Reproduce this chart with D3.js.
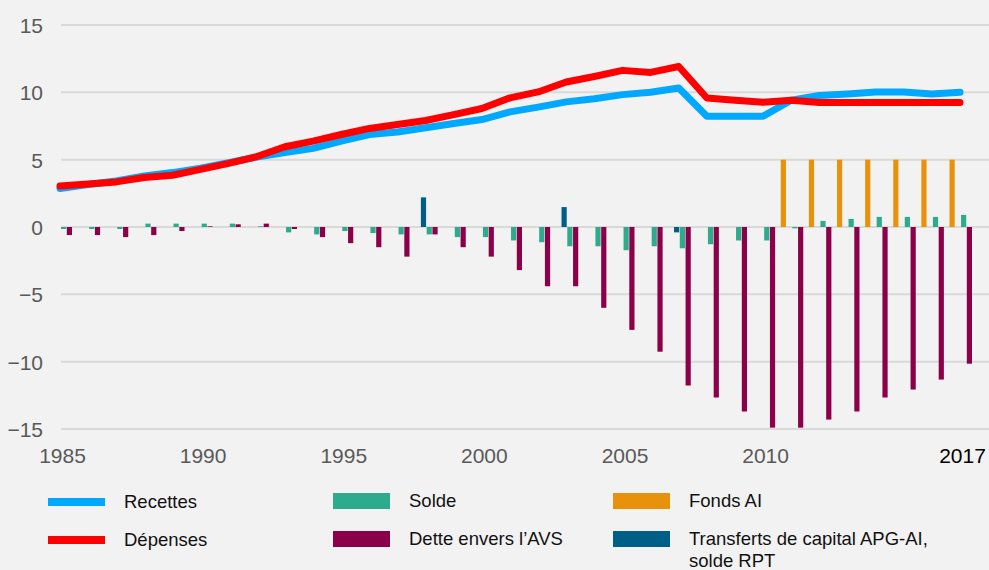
<!DOCTYPE html>
<html>
<head>
<meta charset="utf-8">
<script src="https://cdn.jsdelivr.net/npm/d3@7"></script>
<style>
  body { margin: 0; background: #f2f2f2; }
  svg { display: block; font-family: "Liberation Sans", Arial, sans-serif; }
</style>
</head>
<body>
<script>
// ************** Data (Mrd. CHF) ************************************
var years = d3.range(1985, 2018);

var recettes = [2.86, 3.15, 3.42, 3.79, 4.04, 4.36, 4.78, 5.2, 5.52, 5.84,
                6.38, 6.87, 7.05, 7.37, 7.69, 7.98, 8.55, 8.9, 9.29, 9.53,
                9.83, 10.0, 10.32, 8.23, 8.23, 8.23, 9.41, 9.76, 9.88, 10.03,
                10.03, 9.88, 10.0];

var depenses = [3.05, 3.2, 3.35, 3.67, 3.84, 4.28, 4.73, 5.23, 5.96, 6.38,
                6.87, 7.32, 7.61, 7.91, 8.35, 8.8, 9.59, 10.03, 10.77, 11.18,
                11.63, 11.48, 11.92, 9.58, 9.41, 9.26, 9.41, 9.24, 9.24, 9.24,
                9.24, 9.24, 9.24];

var solde = [-0.15, -0.15, -0.15, 0.25, 0.25, 0.25, 0.25, 0.05, -0.4, -0.55,
             -0.3, -0.45, -0.55, -0.55, -0.75, -0.75, -1.0, -1.13, -1.43, -1.43,
             -1.72, -1.43, -1.58, -1.28, -1.0, -1.0, -0.1, 0.45, 0.6, 0.75,
             0.75, 0.75, 0.9];

var dette = [-0.6, -0.6, -0.75, -0.6, -0.3, 0.05, 0.2, 0.25, -0.15, -0.75,
             -1.2, -1.5, -2.2, -0.55, -1.5, -2.2, -3.2, -4.4, -4.4, -6.0,
             -7.64, -9.26, -11.77, -12.66, -13.7, -14.9, -14.9, -14.3, -13.7, -12.66,
             -12.07, -11.33, -10.15];

var fondsAI = [0, 0, 0, 0, 0, 0, 0, 0, 0, 0,
               0, 0, 0, 0, 0, 0, 0, 0, 0, 0,
               0, 0, 0, 0, 0, 0, 5, 5, 5, 5,
               5, 5, 5];

var transferts = [0, 0, 0, 0, 0, 0, 0, 0, 0, 0,
                  0, 0, 0, 2.2, 0, 0, 0, 0, 1.48, 0,
                  0, 0, -0.4, 0, 0, 0, 0, 0, 0, 0,
                  0, 0, 0];

var yTicks = [-15, -10, -5, 0, 5, 10, 15];
var xTickYears = [1985, 1990, 1995, 2000, 2005, 2010, 2017];

// ************** Sizes and colours *****************
var width = 989,
    height = 570,
    plotLeft = 60,
    plotRight = 960,
    plotTop = 25,
    plotBottom = 429;

var colorRecettes = "#00a8ff",
    colorDepenses = "#ff0000",
    colorSolde = "#2eab8c",
    colorDette = "#8b0048",
    colorFonds = "#e8920c",
    colorTransferts = "#005f86",
    gridColor = "#d9d9d9",
    axisTextColor = "#595959";

var barSeries = [
  {key: "fonds", values: fondsAI, color: colorFonds},
  {key: "transferts", values: transferts, color: colorTransferts},
  {key: "solde", values: solde, color: colorSolde},
  {key: "dette", values: dette, color: colorDette}
];

var svg = d3.select("body").append("svg")
  .attr("width", width)
  .attr("height", height);

svg.append("rect")
  .attr("width", width)
  .attr("height", height)
  .attr("fill", "#f2f2f2");

// scales
var x = d3.scaleLinear().domain([1985, 2017]).range([plotLeft, plotRight]);
var y = d3.scaleLinear().domain([-15, 15]).range([plotBottom, plotTop]);
// position of each series inside a year's cluster
var xInner = d3.scaleBand()
  .domain(barSeries.map(function(s) { return s.key; }))
  .range([-10.5, 12])
  .paddingInner(0.1);

// horizontal gridlines
svg.append("g").selectAll("line")
  .data(yTicks)
  .join("line")
  .attr("x1", plotLeft + 1)
  .attr("x2", width)
  .attr("y1", function(d) { return y(d); })
  .attr("y2", function(d) { return y(d); })
  .attr("stroke", gridColor)
  .attr("stroke-width", 2);

// y axis labels
var yAxis = d3.axisLeft(y).tickValues(yTicks).tickSize(0).tickPadding(0);
svg.append("g")
  .attr("transform", "translate(43,0)")
  .call(yAxis)
  .call(function(g) { g.select(".domain").remove(); })
  .selectAll("text")
  .attr("fill", axisTextColor)
  .style("font-size", "21px")
  .style("font-family", "Liberation Sans, Arial, sans-serif")
  .attr("dy", "0.36em");

// x axis labels (last one drawn in black)
var xAxis = d3.axisBottom(x).tickValues(xTickYears).tickFormat(d3.format("d")).tickSize(0).tickPadding(0);
svg.append("g")
  .attr("transform", "translate(2," + (plotBottom + 19) + ")")
  .call(xAxis)
  .call(function(g) { g.select(".domain").remove(); })
  .selectAll("text")
  .attr("fill", function(d) { return d === 2017 ? "#000" : axisTextColor; })
  .style("font-size", "21px")
  .style("font-family", "Liberation Sans, Arial, sans-serif");

// clustered bars
barSeries.forEach(function(s) {
  svg.append("g").selectAll("rect")
    .data(years.map(function(yr, i) { return {year: yr, value: s.values[i]}; })
      .filter(function(d) { return d.value !== 0; }))
    .join("rect")
    .attr("x", function(d) { return x(d.year) + xInner(s.key); })
    .attr("width", xInner.bandwidth())
    .attr("y", function(d) { return y(Math.max(0, d.value)); })
    .attr("height", function(d) { return Math.abs(y(d.value) - y(0)); })
    .attr("fill", s.color);
});

// lines
function addLine(values, color) {
  var line = d3.line()
    .x(function(d, i) { return x(years[i]); })
    .y(function(d) { return y(d); });
  svg.append("path")
    .datum(values)
    .attr("d", line)
    .attr("fill", "none")
    .attr("stroke", color)
    .attr("stroke-width", 7)
    .attr("stroke-linejoin", "round")
    .attr("stroke-linecap", "round");
}
addLine(recettes, colorRecettes);
addLine(depenses, colorDepenses);

// ************** Legend *****************
var legendItems = [
  {label: ["Recettes"], color: colorRecettes, kind: "line", x: 48, y: 502},
  {label: ["Dépenses"], color: colorDepenses, kind: "line", x: 48, y: 540},
  {label: ["Solde"], color: colorSolde, kind: "rect", x: 333, y: 501},
  {label: ["Dette envers l’AVS"], color: colorDette, kind: "rect", x: 333, y: 539},
  {label: ["Fonds AI"], color: colorFonds, kind: "rect", x: 613, y: 501},
  {label: ["Transferts de capital APG-AI,", "solde RPT"], color: colorTransferts, kind: "rect", x: 613, y: 539}
];

var legend = svg.append("g");
legendItems.forEach(function(item) {
  var h = item.kind === "line" ? 8 : 16;
  legend.append("rect")
    .attr("x", item.x)
    .attr("y", item.y - h / 2)
    .attr("width", 57)
    .attr("height", h)
    .attr("fill", item.color);
  var t = legend.append("text")
    .attr("x", item.x + 76)
    .attr("y", item.y + 6)
    .attr("fill", "#111")
    .style("font-size", "18.5px");
  item.label.forEach(function(l, i) {
    t.append("tspan")
      .attr("x", item.x + 76)
      .attr("dy", i === 0 ? 0 : 22)
      .text(l);
  });
});
</script>
</body>
</html>
